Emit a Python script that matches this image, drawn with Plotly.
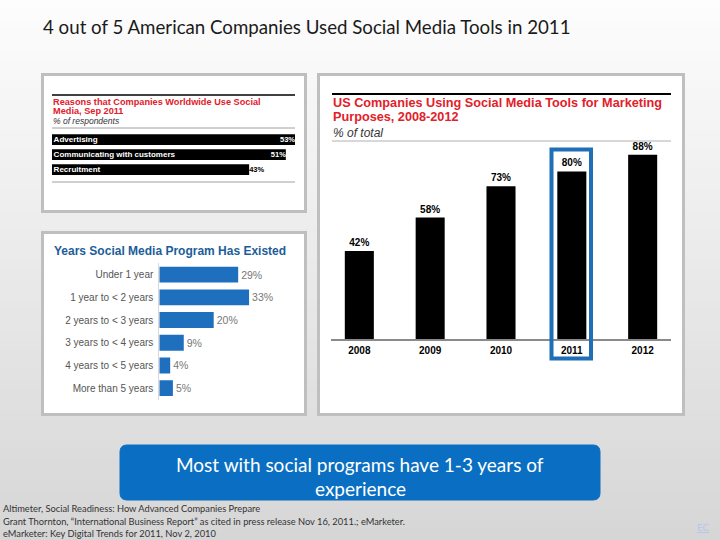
import plotly.graph_objects as go

W, H = 720, 540

# ---------------- data ----------------
reason_labels = ["Advertising", "Communicating with customers", "Recruitment"]
reason_values = [53, 51, 43]

years_labels = ["Under 1 year", "1 year to < 2 years", "2 years to < 3 years",
                "3 years to < 4 years", "4 years to < 5 years", "More than 5 years"]
years_values = [29, 33, 20, 9, 4, 5]

us_years = ["2008", "2009", "2010", "2011", "2012"]
us_values = [42, 58, 73, 80, 88]

main_title = "4 out of 5 American Companies Used Social Media Tools in 2011"
callout_lines = ["Most with social programs have 1-3 years of", "experience"]
footnotes = [
    "Altimeter, Social Readiness: How Advanced Companies Prepare",
    "Grant Thornton, \u201cInternational Business Report\u201d as cited in press release Nov 16, 2011.; eMarketer.",
    "eMarketer: Key Digital Trends for 2011, Nov 2, 2010",
]

# ---------------- helpers ----------------
def px(x):
    return x / W

def py(y):
    return 1 - y / H

RED = "#e2202a"
BLUE = "#1f6fbf"
SANS = "Liberation Sans, Arial, sans-serif"
CAL = "Lato, Open Sans, sans-serif"

fig = go.Figure()

# Panel 1: reasons (horizontal black bars)
fig.add_trace(go.Bar(
    x=reason_values, y=reason_labels, orientation="h",
    marker=dict(color="black", line=dict(width=0)), width=0.72,
    xaxis="x", yaxis="y", hoverinfo="skip",
))
fig.add_trace(go.Scatter(
    x=[0] * len(reason_labels), y=reason_labels, mode="text",
    text=["\u2009" + s for s in reason_labels], textposition="middle right",
    textfont=dict(color="white", size=8, family=SANS, weight="bold"),
    xaxis="x", yaxis="y", hoverinfo="skip", cliponaxis=False,
))
fig.add_trace(go.Scatter(
    x=reason_values, y=reason_labels, mode="text",
    text=[f"{v}%" for v in reason_values],
    textposition=["middle left" if v > 45 else "middle right" for v in reason_values],
    textfont=dict(color=["white" if v > 45 else "black" for v in reason_values],
                  size=7.5, family=SANS, weight="bold"),
    xaxis="x", yaxis="y", hoverinfo="skip", cliponaxis=False,
))

# Panel 2: years program existed (blue bars)
fig.add_trace(go.Bar(
    x=years_values, y=years_labels, orientation="h",
    marker=dict(color=BLUE, line=dict(width=0)), width=0.7,
    text=[f"{v}%" for v in years_values], textposition="outside",
    textfont=dict(color="#777777", size=10.5, family=SANS),
    xaxis="x2", yaxis="y2", hoverinfo="skip", cliponaxis=False,
))

# Panel 3: US companies (black vertical bars)
fig.add_trace(go.Bar(
    x=us_years, y=us_values,
    marker=dict(color="black", line=dict(width=0)), width=0.41,
    text=[f"{v}%" for v in us_values], textposition="outside",
    textfont=dict(color="black", size=10, family=SANS, weight="bold"),
    xaxis="x3", yaxis="y3", hoverinfo="skip", cliponaxis=False,
))

shapes = []
# background gradient
n = 54
for i in range(n):
    y0 = i * H / n
    y1 = (i + 1) * H / n
    c = int(round(253 - (253 - 214) * (i + 0.5) / n))
    shapes.append(dict(type="rect", xref="paper", yref="paper", layer="below",
                       x0=0, x1=1, y0=py(y1), y1=py(y0) + 0.001,
                       fillcolor=f"rgb({c},{c},{c})", line=dict(width=0)))

# panels
for (x0, y0, x1, y1) in [(42.5, 74.5, 305.5, 211.5), (42.5, 232.5, 305.5, 414.5),
                         (318.5, 74.5, 683.5, 414.5)]:
    shapes.append(dict(type="rect", xref="paper", yref="paper", layer="below",
                       x0=px(x0), x1=px(x1), y0=py(y1), y1=py(y0),
                       fillcolor="white", line=dict(color="#bfbfbf", width=3)))

def hline(x0, x1, y, color, width):
    shapes.append(dict(type="line", xref="paper", yref="paper", layer="above",
                       x0=px(x0), x1=px(x1), y0=py(y), y1=py(y),
                       line=dict(color=color, width=width)))

hline(52, 295, 95, "black", 1.5)
hline(52, 295, 128, "#a0a0a0", 1)
hline(52, 295, 182, "#a0a0a0", 1)
hline(332, 671, 94, "black", 2)
hline(332, 671, 141, "#b0b0b0", 1)

# highlight around 2011
shapes.append(dict(type="rect", xref="paper", yref="paper", layer="above",
                   x0=px(551.5), x1=px(591), y0=py(358.5), y1=py(149.5),
                   line=dict(color="#1e6fb5", width=4), fillcolor="rgba(0,0,0,0)"))

# callout rounded rect
bx0, bx1, by0, by1, r = 120, 600, 445, 500, 7
path = (f"M {px(bx0 + r)} {py(by0)} L {px(bx1 - r)} {py(by0)} "
        f"Q {px(bx1)} {py(by0)} {px(bx1)} {py(by0 + r)} "
        f"L {px(bx1)} {py(by1 - r)} Q {px(bx1)} {py(by1)} {px(bx1 - r)} {py(by1)} "
        f"L {px(bx0 + r)} {py(by1)} Q {px(bx0)} {py(by1)} {px(bx0)} {py(by1 - r)} "
        f"L {px(bx0)} {py(by0 + r)} Q {px(bx0)} {py(by0)} {px(bx0 + r)} {py(by0)} Z")
shapes.append(dict(type="path", xref="paper", yref="paper", layer="above", path=path,
                   fillcolor="#0a6fc2", line=dict(color="#0a6fc2", width=1)))

annotations = []

def txt(x, y, s, size, color="black", family=SANS, xanchor="left", weight="normal",
        italic=False):
    annotations.append(dict(
        x=px(x), y=py(y), xref="paper", yref="paper", text=s, showarrow=False,
        xanchor=xanchor, yanchor="middle",
        font=dict(size=size, color=color, family=family, weight=weight,
                  style="italic" if italic else "normal"),
    ))

txt(41, 27, main_title, 18.7, "#1a1a1a", CAL)

txt(51, 101.5, "Reasons that Companies Worldwide Use Social", 9.2, RED, weight="bold")
txt(51, 111, "Media, Sep 2011", 9.2, RED, weight="bold")
txt(51, 121, "% of respondents", 8.5, "#333333", italic=True)

txt(52, 251, "Years Social Media Program Has Existed", 12, "#1c5d99", weight="bold")

txt(331, 103.5, "US Companies Using Social Media Tools for Marketing", 12.7, RED, weight="bold")
txt(331, 117.5, "Purposes, 2008-2012", 12.7, RED, weight="bold")
txt(331, 132.5, "% of total", 12, "#333333", italic=True)

txt(360, 464, callout_lines[0], 19, "white", CAL, xanchor="center")
txt(360, 488, callout_lines[1], 19, "white", CAL, xanchor="center")

for (y, s) in zip([509, 521, 533], footnotes):
    txt(1, y, s, 9.3, "#333333", CAL)

txt(695, 527, "<u>EC</u>", 10, "#b9c6ee", CAL)

fig.update_layout(
    width=W, height=H, margin=dict(l=0, r=0, t=0, b=0),
    paper_bgcolor="white", plot_bgcolor="rgba(0,0,0,0)",
    showlegend=False, bargap=0.3, hovermode=False,
    shapes=shapes, annotations=annotations,
    # panel 1
    xaxis=dict(domain=[px(52), px(295)], range=[0, 53], visible=False, fixedrange=True),
    yaxis=dict(domain=[py(177.2), py(132.2)], type="category",
               categoryorder="array", categoryarray=reason_labels,
               range=[2.5, -0.5], visible=False),
    # panel 2
    xaxis2=dict(domain=[px(159.3), px(268.1)], range=[0, 40], visible=False, anchor="y2"),
    yaxis2=dict(domain=[py(399.5), py(263.3)], type="category", anchor="x2",
                categoryorder="array", categoryarray=years_labels,
                range=[5.5, -0.5], showline=True, linecolor="#d8d8d8", linewidth=1,
                showgrid=False, ticks="", ticklabelstandoff=3,
                tickfont=dict(size=10, color="#555555", family=SANS)),
    # panel 3
    xaxis3=dict(domain=[px(331), px(671)], range=[-0.4, 4.4], type="category", anchor="y3",
                showline=True, linecolor="#8a8a8a", linewidth=2, ticks="",
                showgrid=False, ticklabelstandoff=1,
                tickfont=dict(size=10, color="black", family=SANS, weight="bold")),
    yaxis3=dict(domain=[py(339), py(129.6)], range=[0, 100], visible=False, anchor="x3"),
)

fig.write_html(
    "out.html",
    config={"displayModeBar": False, "staticPlot": True},
    post_script="document.body.style.margin='0';document.body.style.overflow='hidden';",
)
